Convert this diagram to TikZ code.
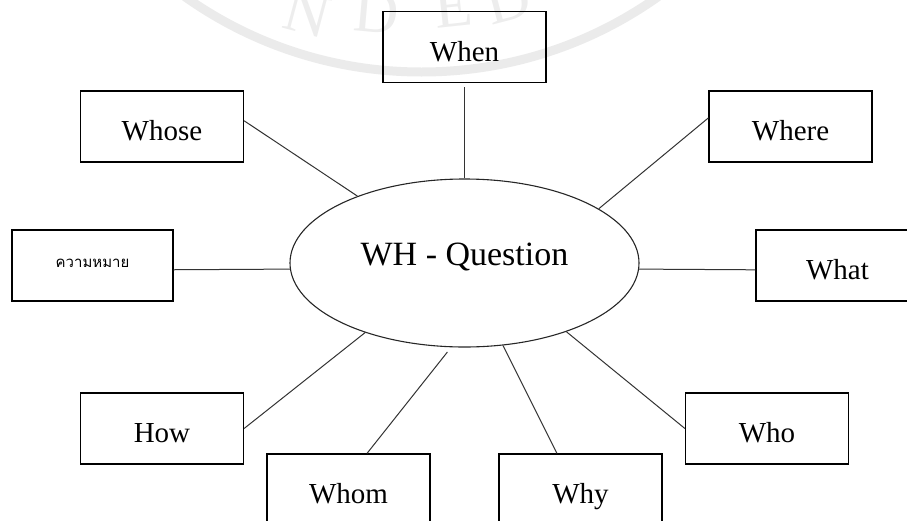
\documentclass[tikz,border=0pt]{standalone}
\usepackage{fontspec}
\setmainfont{Liberation Serif}
\newfontfamily\thaifont[Script=Thai]{Loma}
\usetikzlibrary{shapes.geometric}

\tikzset{
  wbox/.style={draw=black, line width=1.2pt, rectangle, minimum width=163pt,
    minimum height=71pt, inner sep=0pt, text height=28pt, text depth=0pt,
    font=\fontsize{29}{32}\selectfont},
  hub/.style={draw=black!85, line width=1.1pt, ellipse, minimum width=349pt,
    minimum height=168pt, inner sep=0pt, text height=4pt, text depth=0pt,
    font=\fontsize{34}{38}\selectfont},
  conn/.style={draw=black!80, line width=1pt},
  ring/.style={draw=black!8, line width=9pt},
  seal/.style={text=black!7, anchor=base, inner sep=0pt,
    font=\fontsize{62}{62}\selectfont}
}

\begin{document}
\begin{tikzpicture}[x=1pt, y=-1pt]
  \useasboundingbox (0,0) rectangle (907,520);

  % faint seal in the background
  \draw[ring] (421.5,-337) circle (409);
  \node[seal, rotate=-15] (sN)  at (302,33) {N};
  \node[seal, rotate=-5]  (sD1) at (375,32) {D};
  \node[seal, rotate=6]   (sE)  at (455,27) {E};
  \node[seal, rotate=15]  (sD2) at (513,20) {D};

  % central topic
  \node[hub] (q) at (464.5,263) {WH - Question};

  % question words
  \node[wbox] (when)  at (464.5,47)   {When};
  \node[wbox] (whose) at (162,126.5)  {Whose};
  \node[wbox] (where) at (790.5,126.5){Where};
  \node[wbox, minimum width=161pt, text height=3pt,
        font=\thaifont\fontsize{15}{18}\selectfont] (mean) at (92.5,265.5) {ความหมาย};
  \node[wbox] (what)  at (837.5,265.5){What};
  \node[wbox] (how)   at (162,428.5)  {How};
  \node[wbox] (who)   at (767,428.5)  {Who};
  \node[wbox] (whom)  at (348.5,489.5){Whom};
  \node[wbox] (why)   at (580.5,489.5){Why};

  % spokes
  \draw[conn, shorten <=4pt] (when) -- (q);
  \draw[conn] (whose.4) -- (q.148);
  \draw[conn] (where.174) -- (q.22);
  \draw[conn] (mean.357) -- (q.182);
  \draw[conn] (what.183) -- (q.358);
  \draw[conn] (how.east) -- (q.215);
  \draw[conn] (who.west) -- (q.326);
  \draw[conn, shorten >=6pt] ([xshift=18.5pt]whom.north) -- (q.261);
  \draw[conn] ([xshift=-23.5pt]why.north) -- (q.295);
\end{tikzpicture}
\end{document}
